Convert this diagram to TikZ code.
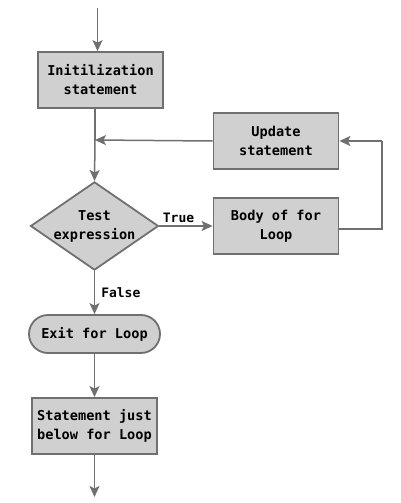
\documentclass[tikz,border=0pt]{standalone}
\usepackage{fontspec}
\setmonofont{DejaVu Sans Mono}
\usetikzlibrary{arrows.meta,shapes.geometric,calc}
\definecolor{linegray}{HTML}{707070}
\definecolor{boxfill}{HTML}{D0D0D0}
\begin{document}
\begin{tikzpicture}[x=1pt,y=-1pt,
  every node/.style={font=\fontsize{13.6}{19}\selectfont\ttfamily\bfseries},
  procbox/.style={draw=linegray,fill=boxfill,line width=1.8pt,minimum width=125pt,minimum height=56pt,inner sep=0pt,align=center},
  decbox/.style={diamond,draw=linegray,fill=boxfill,line width=1.8pt,minimum width=125pt,minimum height=86pt,aspect=1.45,inner sep=0pt,align=center},
  termbox/.style={draw=linegray,fill=boxfill,line width=1.8pt,minimum width=131pt,minimum height=38pt,rounded corners=19pt,inner sep=0pt,align=center},
  conn/.style={draw=linegray,line width=1.5pt},
  arr/.style={conn,-{Stealth[length=11pt,width=10pt,inset=2.5pt]}},
  lbl/.style={font=\fontsize{13}{14}\selectfont\ttfamily\bfseries,inner sep=0pt}
]
\useasboundingbox (0,0) rectangle (400,503);

\node[procbox] (init) at (100.5,80) {Initilization\\statement};
\node[procbox] (update) at (276,141) {Update\\statement};
\node[procbox] (body) at (276,226) {Body of for\\Loop};
\node[decbox,minimum width=125pt,minimum height=86pt] (test) at (94.5,226) {Test\\expression};
\node[termbox] (exit) at (94.5,334) {Exit for Loop};
\node[procbox] (stmt) at (94.5,426) {Statement just\\below for Loop};

\coordinate (top) at (97.5,8);
\coordinate (join) at (95,140);
\coordinate (rt) at (382,229);
\coordinate (rtop) at (382,141);
\coordinate (endpt) at (94.5,497);

\draw[arr] (top) -- (init.north -| top);
\draw[conn] (init.south -| join) -- (join);
\draw[arr] (update.west) -- (join);
\draw[arr] (join) -- (test.north);
\draw[arr] (test.east) -- (body.west) node[lbl,pos=0.36,above=3pt] {True};
\draw[conn] (body.east |- rt) -- (rt) -- (rtop);
\draw[arr] (rtop) -- (update.east);
\draw[arr] (test.south) -- (exit.north) node[lbl,midway,right=6pt] {False};
\draw[arr] (exit.south) -- (stmt.north);
\draw[arr] (stmt.south) -- (endpt);
\end{tikzpicture}
\end{document}
